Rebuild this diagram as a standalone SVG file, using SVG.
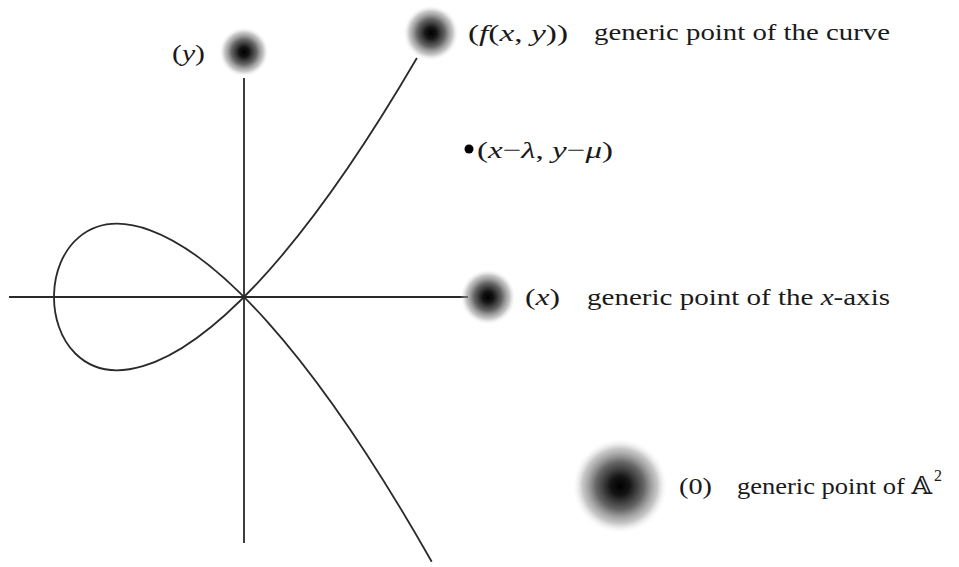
<svg xmlns="http://www.w3.org/2000/svg" width="959" height="567" viewBox="0 0 959 567">
<style>
text{font-family:"Liberation Serif","DejaVu Serif",serif;font-size:24px;fill:#1a1a1a}
.i{font-style:italic}
.ln{fill:none;stroke:#2a2a2a;stroke-width:1.8}
</style>
<defs>
<radialGradient id="blur">
<stop offset="0" stop-color="#000" stop-opacity="1"/>
<stop offset="0.2" stop-color="#151515" stop-opacity="1"/>
<stop offset="0.5" stop-color="#555" stop-opacity="0.9"/>
<stop offset="0.78" stop-color="#999" stop-opacity="0.55"/>
<stop offset="1" stop-color="#fff" stop-opacity="0"/>
</radialGradient>
</defs>
<rect width="959" height="567" fill="#fff"/>
<g id="connectors">
<line class="ln" x1="9" y1="297" x2="468" y2="297"/>
<line class="ln" x1="244" y1="78" x2="244" y2="543"/>
<path class="ln" d="M431.74,561.71 C-66.91,-316.11 -71.86,894.42 416.89,58.07"/>
</g>
<g id="node-y">
<circle cx="244" cy="52" r="25" fill="url(#blur)"/>
<text x="172" y="61" textLength="33" lengthAdjust="spacingAndGlyphs">(<tspan class="i">y</tspan>)</text>
</g>
<g id="node-curve">
<circle cx="431" cy="33" r="28" fill="url(#blur)"/>
<text x="468" y="41" textLength="100" lengthAdjust="spacingAndGlyphs">(<tspan class="i">f</tspan>(<tspan class="i">x</tspan>, <tspan class="i">y</tspan>))</text>
<text x="594" y="40" textLength="296" lengthAdjust="spacingAndGlyphs">generic point of the curve</text>
</g>
<g id="node-point">
<circle cx="469" cy="149" r="4.5" fill="#000"/>
<text x="477" y="158" textLength="136" lengthAdjust="spacingAndGlyphs">(<tspan class="i">x</tspan>−<tspan class="i">λ</tspan>, <tspan class="i">y</tspan>−<tspan class="i">μ</tspan>)</text>
</g>
<g id="node-x">
<circle cx="488" cy="297" r="28" fill="url(#blur)"/>
<text x="525" y="305" textLength="35" lengthAdjust="spacingAndGlyphs">(<tspan class="i">x</tspan>)</text>
<text x="587" y="305" textLength="303" lengthAdjust="spacingAndGlyphs">generic point of the <tspan class="i">x</tspan>-axis</text>
</g>
<g id="node-zero">
<circle cx="620" cy="486" r="48" fill="url(#blur)"/>
<text x="679" y="494" textLength="33" lengthAdjust="spacingAndGlyphs">(0)</text>
<text x="737" y="494" textLength="195" lengthAdjust="spacingAndGlyphs">generic point of 𝔸</text>
<text x="934" y="481" style="font-size:16px">2</text>
</g>
</svg>
